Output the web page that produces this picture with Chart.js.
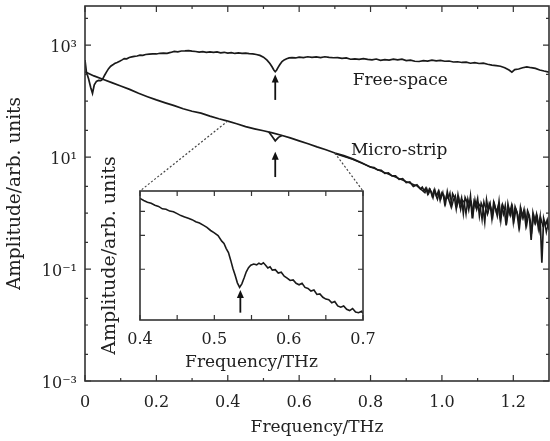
<!DOCTYPE html>
<html><head><meta charset="utf-8">
<script src="https://cdn.jsdelivr.net/npm/chart.js@4"></script>
<style>
html,body{margin:0;padding:0;background:#fff;}
#wrap{position:relative;width:550px;height:441px;overflow:hidden;}
#main{position:absolute;left:0;top:0;width:550px;height:441px;}
#inset{position:absolute;left:95px;top:145px;width:290px;height:235px;}
</style></head><body>
<div id="wrap"><canvas id="main" width="550" height="441"></canvas><canvas id="inset" width="290" height="235"></canvas></div>
<script>
// ---------- data ----------
const fsFreq = [0,0.004,0.01,0.016,0.021,0.026,0.032,0.038,0.044,0.049,0.055,0.06,0.066,0.072,0.078,0.083,0.09,0.097,0.104,0.11,0.117,0.124,0.131,0.138,0.146,0.154,0.162,0.17,0.18,0.19,0.2,0.21,0.22,0.23,0.24,0.25,0.26,0.27,0.28,0.29,0.3,0.31,0.32,0.33,0.34,0.35,0.36,0.37,0.38,0.39,0.4,0.41,0.42,0.43,0.44,0.45,0.46,0.47,0.48,0.49,0.5,0.51,0.518,0.524,0.529,0.533,0.537,0.541,0.546,0.552,0.558,0.565,0.572,0.58,0.59,0.6,0.612,0.624,0.636,0.648,0.66,0.672,0.684,0.696,0.708,0.72,0.732,0.744,0.756,0.768,0.78,0.792,0.804,0.816,0.828,0.84,0.852,0.864,0.876,0.888,0.9,0.912,0.924,0.936,0.948,0.96,0.972,0.984,0.996,1.008,1.02,1.032,1.044,1.056,1.068,1.08,1.092,1.104,1.116,1.128,1.14,1.152,1.164,1.176,1.188,1.196,1.204,1.215,1.226,1.238,1.25,1.262,1.274,1.286,1.3];
const fsAmp = [540,330,250,175,138,195,225,235,232,245,290,330,380,420,445,470,490,515,545,575,570,600,615,630,640,660,655,680,690,700,695,715,720,715,740,770,760,785,790,800,780,770,750,765,745,760,740,755,730,745,720,735,710,725,715,720,705,700,680,655,610,540,470,410,360,335,360,400,450,510,545,570,590,600,590,610,600,620,605,615,600,620,605,595,600,580,590,560,570,555,575,555,545,565,535,550,540,560,545,560,530,540,515,510,530,520,540,525,535,515,520,500,505,490,495,475,485,470,475,455,440,430,420,395,360,330,365,375,395,410,395,385,360,345,330];

const msFreq = [0,0.025,0.05,0.075,0.1,0.125,0.15,0.175,0.2,0.225,0.25,0.275,0.3,0.325,0.35,0.375,0.4,0.425,0.45,0.475,0.5,0.525,0.55,0.575,0.6,0.625,0.65,0.675,0.7,0.725,0.75,0.775,0.8,
 0.81,0.82,0.83,0.84,0.85,0.86,0.87,0.88,0.89,0.9,0.91,0.92,0.93,0.94,
 0.945,0.95,0.955,0.96,0.965,0.97,0.975,0.98,0.985,0.99,0.995,1.0,1.005,1.01,1.015,1.02,1.025,1.03,1.035,1.04,1.045,1.05,1.055,1.06,1.065,1.07,1.075,1.08,1.085,1.09,1.095,1.1,1.105,1.11,1.115,1.12,1.125,1.13,1.135,1.14,1.145,1.15,1.155,1.16,1.165,1.17,1.175,1.18,1.185,1.19,1.195,1.2,1.205,1.21,1.215,1.22,1.225,1.23,1.235,1.24,1.245,1.25,1.255,1.26,1.265,1.27,1.275,1.28,1.285,1.29,1.295,1.3];
const msAmp = [335,282,245,214,186,162,138,120,105,93,83,73,66,61,54,48.5,44,39.5,35,32,29.5,27,24.5,22,19.5,17.3,15.2,13.5,11.8,10.6,9.3,7.9,6.6,
 6.5,5.9,5.8,5.1,5.2,4.6,4.6,4.0,4.1,3.5,3.6,3.0,3.2,2.7,
 2.9,2.5,2.8,2.2,2.7,2.4,1.9,2.6,2.0,2.45,1.7,
 2.3,2.1,1.5,2.4,1.7,1.35,2.2,1.9,1.2,2.1,1.4,1.85,1.0,1.9,1.6,1.15,2.0,0.8,1.6,1.3,1.8,0.9,1.5,1.25,0.7,1.7,1.1,1.45,0.8,1.55,1.2,0.9,1.6,0.75,1.4,1.15,0.6,1.45,1.0,1.35,0.7,1.3,1.05,0.6,1.25,0.85,1.15,0.62,1.1,0.9,0.33,1.0,0.7,0.95,0.55,0.85,0.13,0.8,0.6,0.75,0.5];

// second (overlapping) micro-strip trace, visible where the noise thickens
const ms2Freq = [0.7,0.75,0.8,0.85,0.9,0.93,
 0.9525,0.9575,0.9625,0.9675,0.9725,0.9775,0.9825,0.9875,0.9925,0.9975,1.0025,1.0075,1.0125,1.0175,1.0225,1.0275,1.0325,1.0375,1.0425,1.0475,1.0525,1.0575,1.0625,1.0675,1.0725,1.0775,1.0825,1.0875,1.0925,1.0975,1.1025,1.1075,1.1125,1.1175,1.1225,1.1275,1.1325,1.1375,1.1425,1.1475,1.1525,1.1575,1.1625,1.1675,1.1725,1.1775,1.1825,1.1875,1.1925,1.1975,1.2025,1.2075,1.2125,1.2175,1.2225,1.2275,1.2325,1.2375,1.2425,1.2475,1.2525,1.2575,1.2625,1.2675,1.2725,1.2775,1.2825,1.2875,1.2925,1.2975];
const ms2Amp = [11.6,9.1,6.7,4.95,3.65,3.05,
 2.3,2.75,2.2,2.6,2.0,2.55,2.15,1.75,2.4,1.85,2.35,1.45,2.0,1.8,2.3,1.3,1.75,2.05,1.35,1.8,1.15,1.7,1.55,0.95,1.8,1.3,1.55,0.95,1.75,1.15,1.5,1.3,0.75,1.6,1.2,0.95,1.5,1.25,0.85,1.45,1.05,1.35,0.8,1.3,0.95,1.4,0.75,1.2,0.9,1.3,0.75,1.15,0.95,0.55,1.1,0.8,1.05,0.6,0.95,0.75,0.5,0.9,0.65,0.85,0.48,0.8,0.6,0.7,0.45,0.65];

const dipFreq = [0.515,0.524,0.533,0.542,0.552];
const dipAmp  = [28.0,23.5,19.5,22.5,24.3];

const insetFreq = [0.4,0.405,0.41,0.415,0.42,0.425,0.43,0.435,0.44,0.445,0.45,0.455,0.46,0.465,0.47,0.475,0.48,0.485,0.49,0.495,0.5,0.505,0.51,0.513,0.516,0.519,0.522,0.525,0.528,0.531,0.534,0.537,0.54,0.543,0.546,0.549,0.553,0.557,0.56,0.563,0.566,0.569,0.572,0.575,0.578,0.582,0.586,0.59,0.594,0.598,0.602,0.606,0.61,0.614,0.618,0.622,0.626,0.63,0.634,0.638,0.642,0.646,0.65,0.654,0.658,0.662,0.666,0.67,0.674,0.678,0.682,0.686,0.69,0.694,0.698,0.7];
const insetAmp = [46.7,45.5,44.6,44.0,43.0,42.4,41.2,41.0,40.1,39.8,38.9,38.0,37.4,36.8,36.2,35.3,34.8,33.9,33.0,31.8,30.9,29.9,28.0,27.2,25.6,24.4,22.3,20.2,18.6,17.0,16.1,16.8,18.0,19.4,20.4,21.0,21.3,21.1,21.5,21.2,21.6,21.0,20.3,20.6,19.8,19.9,19.1,19.3,18.4,18.0,17.5,17.6,16.9,16.6,16.9,16.1,15.9,15.4,15.6,14.8,14.9,14.3,14.0,13.9,13.4,13.6,12.9,12.7,12.9,12.4,12.2,12.5,12.0,11.9,12.1,11.8];

const xMajorTicks = [0,0.2,0.4,0.6,0.8,1.0,1.2];
const xTickLabels = ['0','0.2','0.4','0.6','0.8','1.0','1.2'];
const xMinorTicks = [0.1,0.3,0.5,0.7,0.9,1.1];
const yMajorTicks = [1e-3,1e-1,1e1,1e3];
const yTickLabels = ['10⁻³','10⁻¹','10¹','10³'];
const yMinorTicks = [3e-3,1e-2,3e-2,0.3,1,3,30,100,300,3000];

const insetXTicks = [0.4,0.5,0.6,0.7];
const insetXLabels = ['0.4','0.5','0.6','0.7'];
const insetXMinor = [0.45,0.55,0.65];
const insetYTicks = [20,30,40];

const zoomRange = [0.4,0.7];
const curveNames = ['Free-space','Micro-strip'];
const curveNameFreq = [0.75,0.745];
const curveNameAmp = [230,13.3];
const arrowFreq = [0.533,0.533];
const arrowTip = [300,12.5];
const arrowTail = [105,4.4];
const insetArrowFreq = [0.535];
const insetArrowTip = [15.6];
const insetArrowTail = [11.9];

// ---------- helpers ----------
const SERIF = "'DejaVu Serif', serif";
Chart.defaults.font.family = SERIF;
Chart.defaults.color = '#222';
const toXY = (xs, ys) => xs.map((x, i) => ({x, y: ys[i]}));
const INK = '#1a1a1a';
const noPad = s => { s.paddingTop = 0; s.paddingBottom = 0; s.paddingLeft = 0; s.paddingRight = 0; };

const frameTicks = {
  id: 'frameTicks',
  afterDatasetsDraw(chart, args, o) {
    const {ctx, chartArea: a} = chart;
    const xs = chart.scales.x, ys = chart.scales.y;
    ctx.save();
    ctx.strokeStyle = '#333';
    ctx.lineWidth = 1.2;
    ctx.beginPath();
    const vx = (vals, len) => vals.forEach(v => { const p = xs.getPixelForValue(v); ctx.moveTo(p, a.bottom); ctx.lineTo(p, a.bottom - len); ctx.moveTo(p, a.top); ctx.lineTo(p, a.top + len); });
    const vy = (vals, len) => vals.forEach(v => { const p = ys.getPixelForValue(v); ctx.moveTo(a.left, p); ctx.lineTo(a.left + len, p); ctx.moveTo(a.right, p); ctx.lineTo(a.right - len, p); });
    vx(o.xMajor, o.majorLen); vx(o.xMinor, o.minorLen); vy(o.yMajor, o.majorLen); vy(o.yMinor, o.minorLen);
    ctx.stroke();
    ctx.lineWidth = 1.6;
    ctx.strokeRect(a.left, a.top, a.right - a.left, a.bottom - a.top);
    ctx.restore();
  }
};

function drawArrows(chart, fx, tips, tails) {
  const ctx = chart.ctx, xs = chart.scales.x, ys = chart.scales.y;
  ctx.save();
  ctx.strokeStyle = '#111'; ctx.fillStyle = '#111'; ctx.lineWidth = 1.8;
  fx.forEach((f, i) => {
    const x = xs.getPixelForValue(f), y0 = ys.getPixelForValue(tips[i]), y1 = ys.getPixelForValue(tails[i]);
    ctx.beginPath(); ctx.moveTo(x, y1); ctx.lineTo(x, y0 + 5); ctx.stroke();
    ctx.beginPath(); ctx.moveTo(x, y0); ctx.lineTo(x - 3.5, y0 + 8); ctx.lineTo(x + 3.5, y0 + 8); ctx.closePath(); ctx.fill();
  });
  ctx.restore();
}

let insetChart = null;

insetChart = new Chart(document.getElementById('inset'), {
  type: 'line',
  data: { datasets: [{ data: toXY(insetFreq, insetAmp) }] },
  options: {
    responsive: false, animation: false, devicePixelRatio: 1,
    layout: { padding: { top: 46, right: 22, left: 0, bottom: 0 } },
    elements: { point: { radius: 0 }, line: { borderWidth: 1.6, borderColor: INK, tension: 0 } },
    plugins: {
      legend: { display: false }, tooltip: { enabled: false },
      frameTicks: { xMajor: insetXTicks, xMinor: insetXMinor, yMajor: insetYTicks, yMinor: [], majorLen: 5, minorLen: 5 }
    },
    scales: {
      x: { type: 'linear', min: 0.4, max: 0.7,
        afterBuildTicks(s) { s.ticks = insetXTicks.map(v => ({ value: v })); },
        afterFit(s) { s.height = 60; noPad(s); },
        ticks: { autoSkip: false, maxRotation: 0, minRotation: 0, padding: 10, font: { size: 16 }, callback: (v, i) => insetXLabels[i] },
        grid: { display: false, drawTicks: false }, border: { display: false },
        title: { display: true, text: 'Frequency/THz', font: { size: 17 }, padding: { top: 0, bottom: 7 } } },
      y: { type: 'logarithmic', min: 10.9, max: 51,
        afterFit(s) { s.width = 45; noPad(s); },
        ticks: { display: false },
        grid: { display: false, drawTicks: false }, border: { display: false },
        title: { display: true, text: 'Amplitude/arb. units', font: { size: 19 }, padding: { top: 4, bottom: 0 } } }
    }
  },
  plugins: [frameTicks, { id: 'insetArrows', afterDatasetsDraw(c) { drawArrows(c, insetArrowFreq, insetArrowTip, insetArrowTail); } }]
});

const extras = {
  id: 'extras',
  afterDatasetsDraw(chart) {
    const ctx = chart.ctx, xs = chart.scales.x, ys = chart.scales.y;
    ctx.save();
    ctx.fillStyle = '#1a1a1a'; ctx.font = '17px ' + SERIF; ctx.textAlign = 'left'; ctx.textBaseline = 'middle';
    curveNames.forEach((t, i) => ctx.fillText(t, xs.getPixelForValue(curveNameFreq[i]), ys.getPixelForValue(curveNameAmp[i])));
    ctx.restore();
    drawArrows(chart, arrowFreq, arrowTip, arrowTail);
    if (insetChart) {
      const ic = document.getElementById('inset');
      const ia = insetChart.chartArea;
      const corners = [[ic.offsetLeft + ia.left, ic.offsetTop + ia.top], [ic.offsetLeft + ia.right, ic.offsetTop + ia.top]];
      ctx.save();
      ctx.setLineDash([2, 2]); ctx.lineWidth = 1.2; ctx.strokeStyle = '#444';
      zoomRange.forEach((f, i) => {
        const amp = msAmp[msFreq.indexOf(f)];
        ctx.beginPath();
        ctx.moveTo(xs.getPixelForValue(f), ys.getPixelForValue(amp));
        ctx.lineTo(corners[i][0], corners[i][1]);
        ctx.stroke();
      });
      ctx.restore();
    }
  }
};

new Chart(document.getElementById('main'), {
  type: 'line',
  data: { datasets: [
    { label: 'Free-space', data: toXY(fsFreq, fsAmp) },
    { label: 'Micro-strip', data: toXY(msFreq, msAmp) },
    { label: 'Micro-strip 2', data: toXY(ms2Freq, ms2Amp), borderWidth: 1.4 },
    { label: 'Micro-strip dip', data: toXY(dipFreq, dipAmp) }
  ] },
  options: {
    responsive: false, animation: false, devicePixelRatio: 1,
    layout: { padding: { top: 6, right: 1, left: 0, bottom: 0 } },
    elements: { point: { radius: 0 }, line: { borderWidth: 1.7, borderColor: INK, tension: 0 } },
    plugins: {
      legend: { display: false }, tooltip: { enabled: false },
      frameTicks: { xMajor: xMajorTicks, xMinor: xMinorTicks, yMajor: yMajorTicks, yMinor: yMinorTicks, majorLen: 6, minorLen: 3 }
    },
    scales: {
      x: { type: 'linear', min: 0, max: 1.3,
        afterBuildTicks(s) { s.ticks = xMajorTicks.map(v => ({ value: v })); },
        afterFit(s) { s.height = 60; noPad(s); },
        ticks: { autoSkip: false, maxRotation: 0, minRotation: 0, padding: 12, font: { size: 16 }, callback: (v, i) => xTickLabels[i] },
        grid: { display: false, drawTicks: false }, border: { display: false },
        title: { display: true, text: 'Frequency/THz', font: { size: 17 }, padding: { top: 0, bottom: 3 } } },
      y: { type: 'logarithmic', min: 1e-3, max: 5000,
        afterBuildTicks(s) { s.ticks = yMajorTicks.map(v => ({ value: v })); },
        afterFit(s) { s.width = 85; noPad(s); },
        ticks: { autoSkip: false, padding: 8, labelOffset: 3, font: { size: 16 }, callback: (v, i) => yTickLabels[i] },
        grid: { display: false, drawTicks: false }, border: { display: false },
        title: { display: true, text: 'Amplitude/arb. units', font: { size: 18.5 }, padding: { top: 4, bottom: 0 } } }
    }
  },
  plugins: [frameTicks, extras]
});
</script>
</body></html>
